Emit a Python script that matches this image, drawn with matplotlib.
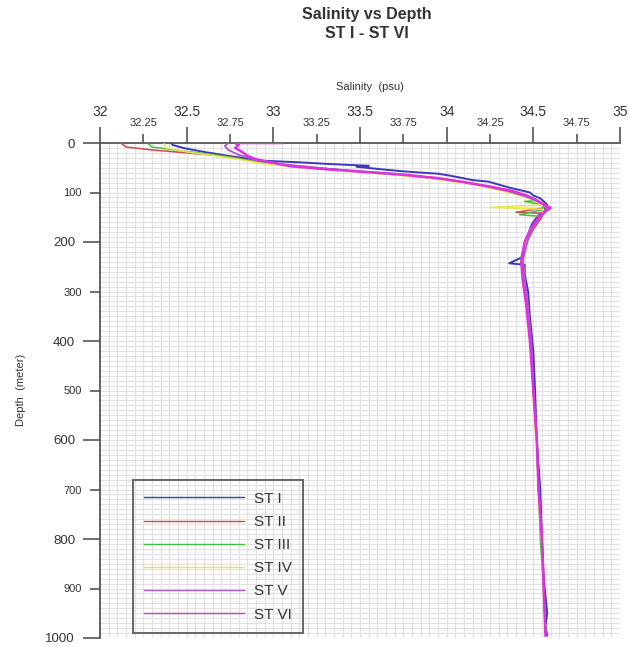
import numpy as np
import matplotlib
matplotlib.use("Agg")
import matplotlib.pyplot as plt
from matplotlib.ticker import MultipleLocator, FuncFormatter

plt.rcParams['font.family'] = ['Liberation Sans', 'DejaVu Sans']

# ---------------- data ----------------
stations = ["ST I", "ST II", "ST III", "ST IV", "ST V", "ST VI"]
colors = ["#3a3ab8", "#d24a4a", "#46c046", "#e6e650", "#a858cc", "#e030e0"]

depth_st1 = [0, 4, 10, 18, 26, 32, 36, 39, 42, 44, 46, 48, 53, 57, 60, 62, 66, 70, 75, 78, 84,
             90, 95, 100, 106, 112, 118, 125, 132, 140, 150, 165, 185, 205, 230, 243, 246,
             265, 300, 350, 420, 500, 600, 700, 800, 880, 950, 975, 995]
sal_st1 = [32.41, 32.42, 32.48, 32.60, 32.74, 32.86, 32.95, 33.15, 33.30, 33.42, 33.55, 33.48,
           33.62, 33.74, 33.86, 33.95, 34.02, 34.08, 34.15, 34.24, 34.30, 34.36, 34.42, 34.48,
           34.50, 34.54, 34.56, 34.58, 34.57, 34.55, 34.52, 34.49, 34.47, 34.45, 34.44, 34.36,
           34.45, 34.45, 34.47, 34.48, 34.50, 34.51, 34.52, 34.54, 34.55, 34.56, 34.58, 34.57,
           34.58]

depth_st2 = [0, 8, 14, 20, 26, 34, 42, 48, 55, 61, 67, 74, 82, 92, 102, 112, 122, 130, 140,
             142, 155, 175, 200, 240, 280, 340, 420, 500, 600, 700, 800, 900, 990]
sal_st2 = [32.12, 32.15, 32.30, 32.50, 32.70, 32.85, 33.00, 33.20, 33.40, 33.60, 33.80, 34.00,
           34.15, 34.30, 34.42, 34.50, 34.55, 34.58, 34.40, 34.56, 34.54, 34.50, 34.46, 34.44,
           34.45, 34.47, 34.49, 34.50, 34.52, 34.53, 34.55, 34.56, 34.57]

depth_st3 = [2, 8, 15, 22, 30, 38, 45, 52, 59, 65, 71, 79, 88, 98, 108, 116, 118, 125, 135,
             145, 148, 165, 190, 230, 270, 320, 400, 500, 600, 700, 800, 900, 980]
sal_st3 = [32.28, 32.30, 32.45, 32.62, 32.78, 32.90, 33.05, 33.30, 33.55, 33.75, 33.95, 34.10,
           34.25, 34.38, 34.48, 34.52, 34.45, 34.56, 34.55, 34.42, 34.54, 34.50, 34.46, 34.43,
           34.44, 34.46, 34.48, 34.50, 34.52, 34.53, 34.54, 34.56, 34.57]

depth_st4 = [2, 10, 18, 25, 33, 42, 49, 56, 63, 69, 76, 84, 95, 106, 115, 125, 130, 134, 150,
             170, 200, 240, 280, 350, 430, 520, 620, 720, 820, 920, 985]
sal_st4 = [32.37, 32.38, 32.50, 32.65, 32.80, 32.95, 33.15, 33.40, 33.65, 33.85, 34.00, 34.15,
           34.30, 34.42, 34.50, 34.55, 34.25, 34.56, 34.54, 34.50, 34.46, 34.44, 34.45, 34.47,
           34.49, 34.50, 34.52, 34.53, 34.55, 34.56, 34.57]

depth_st5 = [0, 6, 14, 24, 34, 43, 50, 57, 63, 70, 78, 87, 97, 107, 117, 127, 133, 145, 165,
             195, 235, 275, 330, 410, 500, 600, 700, 800, 900, 990]
sal_st5 = [32.74, 32.72, 32.74, 32.80, 32.90, 33.05, 33.25, 33.50, 33.72, 33.92, 34.08, 34.22,
           34.35, 34.45, 34.52, 34.57, 34.59, 34.55, 34.51, 34.47, 34.44, 34.45, 34.47, 34.49,
           34.50, 34.52, 34.53, 34.55, 34.56, 34.57]

depth_st6 = [0, 0, 4, 10, 18, 26, 33, 40, 47, 53, 59, 64, 71, 79, 88, 97, 106, 116, 124, 131,
             138, 150, 170, 200, 240, 280, 330, 400, 500, 600, 700, 800, 900, 995]
sal_st6 = [33.05, 32.78, 32.80, 32.78, 32.82, 32.85, 32.90, 33.00, 33.10, 33.30, 33.55, 33.75,
           33.95, 34.10, 34.25, 34.38, 34.46, 34.52, 34.56, 34.60, 34.57, 34.53, 34.49, 34.45,
           34.43, 34.44, 34.46, 34.48, 34.50, 34.52, 34.53, 34.55, 34.56, 34.57]

depths = [depth_st1, depth_st2, depth_st3, depth_st4, depth_st5, depth_st6]
salinities = [sal_st1, sal_st2, sal_st3, sal_st4, sal_st5, sal_st6]
widths = [1.4, 1.1, 1.1, 1.1, 1.3, 1.8]

# ---------------- figure ----------------
W, H = 629, 647
fig = plt.figure(figsize=(W / 100, H / 100), dpi=100)
ax = fig.add_axes([100 / W, 1 - 638 / H, 520 / W, 495 / H])

ax.set_xlim(32, 35)
ax.set_ylim(1000, 0)

# fine grid
for gx in np.arange(32.05, 35.0, 0.05):
    ax.axvline(gx, color="#e2e2e2", lw=0.9, zorder=0)
for gy in np.arange(10, 1000, 10):
    ax.axhline(gy, color="#e2e2e2", lw=0.9, zorder=0)

for name, col, d, s, lw in zip(stations, colors, depths, salinities, widths):
    ax.plot(s, d, color=col, lw=lw, label=name, zorder=3)

# spines
for side in ["bottom", "right"]:
    ax.spines[side].set_visible(False)
for side in ["top", "left"]:
    ax.spines[side].set_color("#555555")
    ax.spines[side].set_linewidth(1.3)

txtc = "#333333"
ax.xaxis.set_ticks_position("top")
ax.xaxis.set_major_locator(MultipleLocator(0.5))
ax.xaxis.set_minor_locator(MultipleLocator(0.25))
ax.yaxis.set_major_locator(MultipleLocator(200))
ax.yaxis.set_minor_locator(MultipleLocator(100))
fmt = FuncFormatter(lambda v, p: f"{v:g}")
ax.xaxis.set_major_formatter(fmt)
ax.xaxis.set_minor_formatter(fmt)
ax.yaxis.set_major_formatter(FuncFormatter(lambda v, p: f"{v:.0f}"))
ax.yaxis.set_minor_formatter(FuncFormatter(lambda v, p: f"{v:.0f}"))

ax.tick_params(axis="x", which="major", top=True, labeltop=True, bottom=False, labelbottom=False,
               direction="out", length=11.5, width=1.2, color="#555555", labelsize=10,
               pad=6, labelcolor=txtc)
ax.tick_params(axis="x", which="minor", top=True, labeltop=True, bottom=False, labelbottom=False,
               direction="out", length=6.5, width=1.2, color="#555555", labelsize=8,
               pad=4.5, labelcolor=txtc)
ax.tick_params(axis="y", which="major", left=True, right=False, direction="out", length=12,
               width=1.2, color="#555555", labelsize=9.5, pad=6, labelcolor=txtc)
ax.tick_params(axis="y", which="minor", left=True, right=False, direction="out", length=7,
               width=1.2, color="#555555", labelsize=8, pad=6, labelcolor=txtc)

fig.text(367 / W, 1 - 15 / H, "Salinity vs Depth", ha="center", va="center",
         fontsize=11.5, fontweight="bold", color=txtc)
fig.text(367 / W, 1 - 33 / H, "ST I - ST VI", ha="center", va="center",
         fontsize=11.5, fontweight="bold", color=txtc)
fig.text(370 / W, 1 - 87 / H, "Salinity  (psu)", ha="center", va="center",
         fontsize=8, color=txtc)
fig.text(21 / W, 1 - 390 / H, "Depth  (meter)", ha="center", va="center",
         fontsize=8, color=txtc, rotation=90)

leg = ax.legend(loc="lower left", bbox_to_anchor=(133 / W, 1 - 633 / H),
                bbox_transform=fig.transFigure, borderaxespad=0, fontsize=11,
                handlelength=6.5, handletextpad=0.65, labelspacing=0.6,
                borderpad=0.75, fancybox=False, framealpha=1)
leg.get_frame().set_facecolor("none")
leg.get_frame().set_edgecolor("#666666")
leg.get_frame().set_linewidth(1.4)
for t in leg.get_texts():
    t.set_color(txtc)
for l in leg.get_lines():
    l.set_linewidth(1.0)

fig.savefig("out.png", dpi=100)
